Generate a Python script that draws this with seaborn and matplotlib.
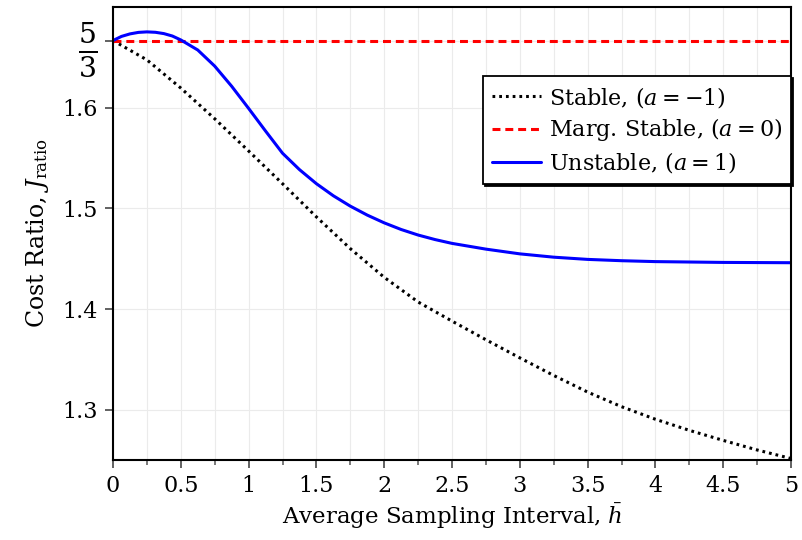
import numpy as np
import pandas as pd
import seaborn as sns
import matplotlib.pyplot as plt
from matplotlib.ticker import MultipleLocator

sns.set_theme(style="white")
plt.rcParams['font.family'] = ['DejaVu Serif']
plt.rcParams['mathtext.fontset'] = 'dejavuserif'
plt.rcParams['text.color'] = 'black'
plt.rcParams['axes.labelcolor'] = 'black'

h_stable = [0, 0.25, 0.5, 0.75, 1.0, 1.25, 1.5, 1.75, 2.0, 2.25, 2.5, 2.75,
            3.0, 3.25, 3.5, 3.75, 4.0, 4.25, 4.5, 4.75, 5.0]
j_stable = [1.6667, 1.6475, 1.6195, 1.5890, 1.5570, 1.5245, 1.4915, 1.4600, 1.4315,
            1.4070, 1.3880, 1.3695, 1.3515, 1.3340, 1.3175, 1.3030, 1.2905, 1.2795,
            1.2695, 1.2600, 1.2515]

h_marg = [0, 5.0]
j_marg = [5 / 3, 5 / 3]

h_unstable = [0, 0.0625, 0.125, 0.1875, 0.25, 0.3125, 0.375, 0.4375, 0.5, 0.625, 0.75,
              0.875, 1.0, 1.125, 1.25, 1.375, 1.5, 1.625, 1.75, 1.875, 2.0, 2.125,
              2.25, 2.375, 2.5, 2.75, 3.0, 3.25, 3.5, 3.75, 4.0, 4.5, 5.0]
j_unstable = [1.6667, 1.6708, 1.6733, 1.6748, 1.6753, 1.6749, 1.6736, 1.6712, 1.6673,
              1.6573, 1.6413, 1.6213, 1.5993, 1.5768, 1.5548, 1.5385, 1.5245, 1.5125,
              1.5022, 1.4933, 1.4856, 1.4790, 1.4735, 1.4690, 1.4652, 1.4595, 1.4548,
              1.4515, 1.4493, 1.4480, 1.4471, 1.4463, 1.4460]

labels = ['Stable, $(a=-1)$', 'Marg. Stable, $(a=0)$', 'Unstable, $(a=1)$']
ytick_vals = [1.3, 1.4, 1.5, 1.6, 5 / 3]
ytick_labels = ['1.3', '1.4', '1.5', '1.6', r'$\frac{5}{3}$']

fig = plt.figure(figsize=(8.02, 5.40), dpi=100)
ax = fig.add_axes([0.1409, 0.1481, 0.8454, 0.8389])

ax.grid(True, which='both', axis='x', color='#ebebeb', lw=0.8)
ax.grid(True, which='major', axis='y', color='#ebebeb', lw=0.8)
ax.set_axisbelow(True)

sns.lineplot(x=h_stable, y=j_stable, ax=ax, color='black', lw=2.2,
             linestyle=(0, (0.9, 1.3)), label=labels[0])
sns.lineplot(x=h_marg, y=j_marg, ax=ax, color='#ff0000', lw=2.2,
             linestyle=(0, (2.6, 1.6)), label=labels[1])
sns.lineplot(x=h_unstable, y=j_unstable, ax=ax, color='#0000ff', lw=2.2,
             label=labels[2])

ax.set_xlim(0, 5)
ax.set_ylim(1.25, 1.70)
ax.xaxis.set_minor_locator(MultipleLocator(0.25))
ax.set_xticks([0, 0.5, 1, 1.5, 2, 2.5, 3, 3.5, 4, 4.5, 5])
ax.set_xticklabels(['0', '0.5', '1', '1.5', '2', '2.5', '3', '3.5', '4', '4.5', '5'])
ax.set_yticks(ytick_vals)
ax.set_yticklabels(ytick_labels)

ax.tick_params(axis='both', which='major', direction='out', length=6, width=1.3,
               color='#555555', labelcolor='black', labelsize=16, pad=5,
               bottom=True, left=True)
ax.get_yticklabels()[-1].set_fontsize(29)
ax.tick_params(axis='x', which='minor', direction='out', length=3.5, width=1.1,
               color='#555555', bottom=True)

for s in ax.spines.values():
    s.set_color('black')
    s.set_linewidth(1.5)

ax.set_xlabel(r'Average Sampling Interval, $\bar{h}$', fontsize=16.5, labelpad=3)
ax.set_ylabel(r'Cost Ratio, $J_{\mathrm{ratio}}$', fontsize=17, labelpad=8)

leg = ax.legend(loc='upper right', bbox_to_anchor=(1.0, 0.848), borderaxespad=0,
                fontsize=16, frameon=True, fancybox=False, edgecolor='black',
                framealpha=1, shadow={'color': 'black', 'alpha': 1, 'ox': 1.5, 'oy': -1.5},
                handlelength=2.2, handletextpad=0.35, borderpad=0.4, labelspacing=0.3)
leg.get_frame().set_linewidth(1.3)

fig.savefig('out.png', dpi=100)
